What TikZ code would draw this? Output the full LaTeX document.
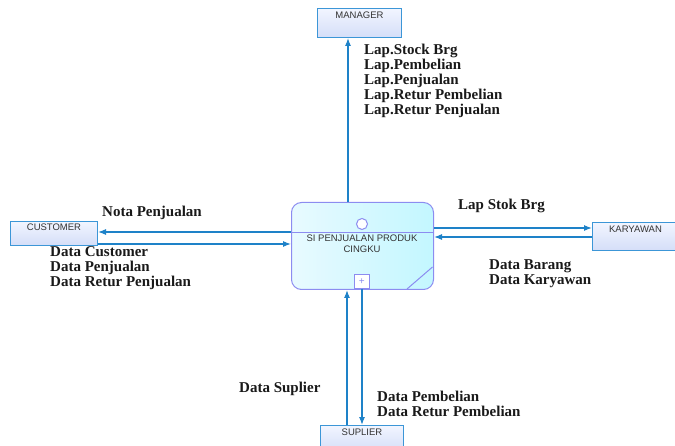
\documentclass[tikz,border=0pt]{standalone}
\usepackage{fontspec}
\setmainfont{Liberation Serif}
\newfontfamily\boxfont{Liberation Sans}
\usetikzlibrary{arrows.meta}
\definecolor{flowblue}{RGB}{30,130,200}
\definecolor{entborder}{RGB}{60,150,215}
\definecolor{entlight}{RGB}{242,245,255}
\definecolor{entdark}{RGB}{212,222,248}
\definecolor{procborder}{RGB}{140,140,240}
\definecolor{proclight}{RGB}{232,250,255}
\definecolor{procdark}{RGB}{195,247,255}
\definecolor{txt}{RGB}{25,25,25}
\tikzset{
  entity/.style={draw=entborder, line width=1pt, top color=entlight, bottom color=entdark, minimum width=#1, inner sep=0pt, anchor=north west},
  entlabel/.style={font=\boxfont\fontsize{9.5}{11}\selectfont, text=black!80, anchor=north, inner sep=0pt},
  flow/.style={draw=flowblue, line width=1.1pt, -{Latex[length=8pt,width=6pt]}},
  lbl/.style={font=\bfseries\fontsize{15}{15}\selectfont, text=txt, align=left, anchor=base west, inner sep=0pt},
  procbox/.style={draw=procborder, line width=1pt, rounded corners=10pt, left color=proclight, right color=procdark, anchor=north west, inner sep=0pt},
}
\begin{document}
\begin{tikzpicture}[x=1pt,y=-1pt]
\useasboundingbox (0,0) rectangle (675,446);
% entities
\node[entity=84pt, minimum height=29pt] (mgr) at (317,8) {};
\node[entlabel] (mgrt) at ([yshift=-4pt]mgr.north) {MANAGER};
\node[entity=87pt, minimum height=24pt] (cust) at (10,221) {};
\node[entlabel] (custt) at ([yshift=-3pt]cust.north) {CUSTOMER};
\node[entity=86pt, minimum height=28pt] (kar) at (592,222) {};
\node[entlabel] (kart) at ([yshift=-4pt]kar.north) {KARYAWAN};
\node[entity=83pt, minimum height=26pt] (sup) at (320,425) {};
\node[entlabel] (supt) at ([yshift=-4pt]sup.north) {SUPLIER};
% process
\node[procbox, minimum width=142pt, minimum height=87pt] (proc) at (291,202) {};
\draw[procborder, line width=1pt] (291,233) -- (433,233);
\draw[procborder, line width=1pt, fill=white] (362,224) circle (5.5pt);
\node[font=\boxfont\fontsize{9.5}{11}\selectfont, text=black!80, align=center, anchor=north, inner sep=0pt] (proct) at (362,235) {SI PENJUALAN PRODUK\\CINGKU};
\node[draw=procborder, line width=0.8pt, fill=white, minimum width=15pt, minimum height=14pt, inner sep=0pt, anchor=south west, font=\boxfont\fontsize{10}{10}\selectfont, text=procborder] (plus) at (354,289) {+};
\draw[procborder, line width=1pt] (432.5,267) -- (407,289);
% connectors
\draw[flow] (proc.north -| 348,0) coordinate (pm) -- (pm |- mgr.south);
\draw[flow] (proc.west |- 0,232) coordinate (pc1) -- (pc1 -| cust.east);
\draw[flow] (cust.east |- 0,244) coordinate (pc2) -- (pc2 -| proc.west);
\draw[flow] (proc.east |- 0,228) coordinate (pk1) -- (pk1 -| kar.west);
\draw[flow] (kar.west |- 0,237) coordinate (pk2) -- (pk2 -| proc.east);
\draw[flow] (sup.north -| 347,0) coordinate (ps1) -- (ps1 |- proc.south);
\draw[flow] (plus.south -| 362,0) coordinate (ps2) -- (ps2 |- sup.north);
% labels (base anchor = last line's baseline)
\node[lbl] (l1) at (364,115) {Lap.Stock Brg\\Lap.Pembelian\\Lap.Penjualan\\Lap.Retur Pembelian\\Lap.Retur Penjualan};
\node[lbl] (l2) at (102,217) {Nota Penjualan};
\node[lbl] (l3) at (50,287) {Data Customer\\Data Penjualan\\Data Retur Penjualan};
\node[lbl] (l4) at (458,210) {Lap Stok Brg};
\node[lbl] (l5) at (489,285) {Data Barang\\Data Karyawan};
\node[lbl] (l6) at (239,392) {Data Suplier};
\node[lbl] (l7) at (377,417) {Data Pembelian\\Data Retur Pembelian};
\end{tikzpicture}
\end{document}
